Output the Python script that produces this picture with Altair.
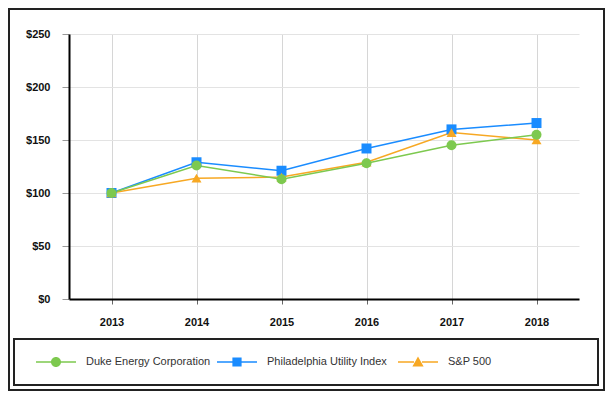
import altair as alt
import pandas as pd

years = ["2013", "2014", "2015", "2016", "2017", "2018"]
series_names = ["Duke Energy Corporation", "Philadelphia Utility Index", "S&P 500"]
duke = [100, 126, 113, 128, 145, 155]
phil = [100, 129, 121, 142, 160, 166]
sp500 = [100, 114, 115, 129, 157, 150]

colors = ["#7dc94f", "#1a8cff", "#f7a823"]
shapes = ["circle", "square", "triangle-up"]

rows = []
for name, vals in [(series_names[1], phil), (series_names[2], sp500), (series_names[0], duke)]:
    for y, v in zip(years, vals):
        rows.append({"year": y, "value": v, "series": name})
df = pd.DataFrame(rows)

FONT = "Liberation Sans, Arial, sans-serif"

# legend symbol paths (unit box -1..1): a thin line on both sides of the marker
seg = "M-1,-0.035H-0.2V0.035H-1ZM0.2,-0.035H1V0.035H0.2Z"
leg_paths = [
    seg + "M-0.25,0A0.25,0.25 0 1,1 0.25,0A0.25,0.25 0 1,1 -0.25,0Z",
    seg + "M-0.23,-0.23H0.23V0.23H-0.23Z",
    seg + "M0,-0.27L0.28,0.22H-0.28Z",
]

x_enc = alt.X(
    "year:O",
    sort=years,
    scale=alt.Scale(type="point", padding=0.5),
    axis=alt.Axis(
        title=None, labelAngle=0, labelFont=FONT, labelFontSize=11, labelFontWeight="bold",
        labelColor="#111", labelPadding=12, tickSize=5, tickColor="#666",
        domainColor="#000", domainWidth=2, grid=True, gridColor="#d6d6d6", gridWidth=1,
    ),
)
y_enc = alt.Y(
    "value:Q",
    scale=alt.Scale(domain=[0, 250], nice=False),
    axis=alt.Axis(
        title=None, values=[0, 50, 100, 150, 200, 250], format="$,.0f",
        labelFont=FONT, labelFontSize=11, labelFontWeight="bold", labelColor="#111",
        labelPadding=12, tickSize=7, tickColor="#999", domainColor="#000", domainWidth=2,
        grid=True, gridColor="#e3e3e3", gridWidth=1,
    ),
)
color_scale = alt.Scale(domain=series_names, range=colors)

lines = alt.Chart(df).mark_line(strokeWidth=1.5).encode(
    x=x_enc, y=y_enc,
    color=alt.Color("series:N", scale=color_scale, legend=None),
    detail="series:N",
)

points = alt.Chart(df).mark_point(filled=True, opacity=1, size=100).encode(
    x=x_enc, y=y_enc,
    color=alt.Color("series:N", scale=color_scale, legend=None),
    shape=alt.Shape("series:N", scale=alt.Scale(domain=series_names, range=shapes), legend=None),
)

leg = alt.Legend(
    title=None, orient="none", legendX=-33, legendY=308, direction="horizontal",
    columns=3, gridAlign="all", padding=0, symbolSize=1600, labelOffset=10,
    columnPadding=6, labelFont=FONT, labelFontSize=11, labelColor="#333",
    symbolStrokeWidth=0, symbolOpacity=1,
)

legend_layer = alt.Chart(df).transform_filter("false").mark_point(
    filled=True, opacity=1
).encode(
    color=alt.Color("series:N", scale=color_scale, legend=leg),
    shape=alt.Shape("series:N", scale=alt.Scale(domain=series_names, range=leg_paths), legend=leg),
)

legend_box = alt.Chart(alt.Data(values=[{}])).mark_rect(
    fill=None, stroke="#222", strokeWidth=2
).encode(
    x=alt.value(-55), x2=alt.value(529), y=alt.value(305), y2=alt.value(351)
)

outer_box = alt.Chart(alt.Data(values=[{}])).mark_rect(
    fill=None, stroke="#222", strokeWidth=2
).encode(
    x=alt.value(-60), x2=alt.value(535), y=alt.value(-25), y2=alt.value(356)
)

chart = alt.layer(lines, points, legend_layer, legend_box, outer_box).resolve_scale(
    color="independent", shape="independent"
).properties(
    width=510, height=265,
    padding={"left": 61, "top": 26, "right": 26, "bottom": 92},
    autosize="none",
).configure_view(stroke=None)

chart.save("out.html", embed_options={"renderer": "svg", "actions": False})
